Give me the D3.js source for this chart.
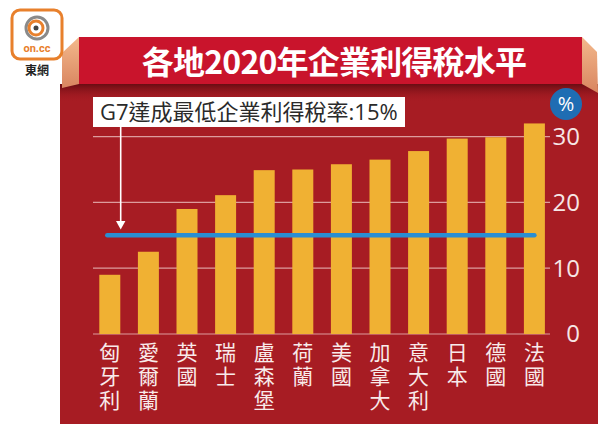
<!DOCTYPE html>
<html><head><meta charset="utf-8">
<script src="https://cdn.jsdelivr.net/npm/d3@7"></script>
<style>html,body{margin:0;padding:0;background:#fff;}svg{display:block;}</style>
</head><body>
<script>
const categories = ["匈牙利","愛爾蘭","英國","瑞士","盧森堡","荷蘭","美國","加拿大","意大利","日本","德國","法國"];
const taxRates = [9, 12.5, 19, 21.1, 24.9, 25, 25.8, 26.5, 27.8, 29.7, 29.9, 32];
const yTicks = [0, 10, 20, 30];
const minimumRate = 15;
const titleText = "各地2020年企業利得稅水平";
const noteText = "G7達成最低企業利得稅率:15%";
const unitText = "%";

const W = 609, H = 424;
const svg = d3.select("body").append("svg").attr("width", W).attr("height", H);
const defs = svg.append("defs");

const sh = defs.append("linearGradient").attr("id","shadow").attr("x1",0).attr("y1",0).attr("x2",0).attr("y2",1);
sh.append("stop").attr("offset",0).attr("stop-color","#5e0a10").attr("stop-opacity",0.85);
sh.append("stop").attr("offset",1).attr("stop-color","#a71c23").attr("stop-opacity",0);
const pl = defs.append("linearGradient").attr("id","peachL").attr("x1",0).attr("y1",0).attr("x2",0).attr("y2",1);
pl.append("stop").attr("offset",0).attr("stop-color","#f3b98c");
pl.append("stop").attr("offset",1).attr("stop-color","#d98560");

// panel
svg.append("rect").attr("x",60).attr("y",84).attr("width",538).attr("height",H-84).attr("fill","#a71c23");
svg.append("rect").attr("x",60).attr("y",84).attr("width",538).attr("height",18).attr("fill","url(#shadow)");
// banner sides
svg.append("path").attr("d","M79,37 L62,53 L62,88 L79,84 Z").attr("fill","url(#peachL)");
svg.append("path").attr("d","M582,37 L597,52 L598,93 L582,84 Z").attr("fill","url(#peachL)");
// banner front
svg.append("rect").attr("x",79).attr("y",37).attr("width",503).attr("height",47).attr("fill","#c9142c");
svg.append("text").attr("x",334).attr("y",74).attr("text-anchor","middle")
  .attr("font-family","'Noto Sans CJK TC','Noto Sans',sans-serif").attr("font-weight",700)
  .attr("font-size",32).attr("letter-spacing",-0.8).attr("fill","#fff").text(titleText);

// logo
const logo = svg.append("g");
logo.append("rect").attr("x",12).attr("y",10).attr("width",50).attr("height",49).attr("rx",8)
  .attr("fill","#fff").attr("stroke","#e8802c").attr("stroke-width",3);
logo.append("circle").attr("cx",37).attr("cy",28).attr("r",11).attr("fill","none").attr("stroke","#8a8a8a").attr("stroke-width",3);
logo.append("circle").attr("cx",36).attr("cy",28).attr("r",7).attr("fill","none").attr("stroke","#e8802c").attr("stroke-width",3);
logo.append("circle").attr("cx",36).attr("cy",28).attr("r",2.5).attr("fill","#444");
logo.append("text").attr("x",37).attr("y",52).attr("text-anchor","middle").attr("font-family","Roboto,sans-serif")
  .attr("font-weight",700).attr("font-size",11).attr("fill","#e8802c").text("on.cc");
logo.append("text").attr("x",37).attr("y",75).attr("text-anchor","middle").attr("font-family","'Noto Sans CJK TC',sans-serif")
  .attr("font-weight",700).attr("font-size",12).attr("fill","#222").text("東網");

// scales
const x = d3.scaleBand().domain(categories).range([90.5, 553.7]).paddingInner(0.456).paddingOuter(0.228);
const y = d3.scaleLinear().domain([0, 30]).range([334, 136.6]);

// gridlines
svg.append("g").selectAll("line").data(yTicks).join("line")
  .attr("x1",93).attr("x2",550).attr("y1",d=>y(d)).attr("y2",d=>y(d))
  .attr("stroke","#e7b3b3").attr("stroke-width",1.2).attr("opacity",0.85);

// bars
svg.append("g").selectAll("rect").data(taxRates).join("rect")
  .attr("x",(d,i)=>x(categories[i])).attr("width",x.bandwidth())
  .attr("y",d=>y(d)).attr("height",d=>y(0)-y(d)).attr("fill","#f0b133");

// reference line
svg.append("line").attr("x1",x(categories[0])+8).attr("x2",x(categories[categories.length-1])+x.bandwidth()/2)
  .attr("y1",y(minimumRate)).attr("y2",y(minimumRate))
  .attr("stroke","#2a8ed2").attr("stroke-width",4.5).attr("stroke-linecap","round");

// y tick labels
svg.append("g").selectAll("text").data(yTicks).join("text")
  .attr("x",580).attr("y",d=>y(d)).attr("dy","0.35em").attr("text-anchor","end")
  .attr("font-family","'Open Sans',sans-serif").attr("font-size",24).attr("fill","#f6e6e6").text(d=>d);

// unit circle
svg.append("circle").attr("cx",566).attr("cy",104).attr("r",16).attr("fill","#1f6db3");
svg.append("text").attr("x",566).attr("y",104).attr("dy","0.36em").attr("text-anchor","middle")
  .attr("font-family","'Open Sans',sans-serif").attr("font-size",20).attr("fill","#fff").text(unitText);

// note box
svg.append("rect").attr("x",93).attr("y",97).attr("width",312).attr("height",30).attr("fill","#fff");
svg.append("text").attr("x",100).attr("y",112).attr("dy","0.36em")
  .attr("font-family","'Open Sans','Noto Sans CJK TC',sans-serif").attr("font-size",22).attr("fill","#2a2a2a").text(noteText);
// arrow
svg.append("line").attr("x1",120.7).attr("x2",120.7).attr("y1",127).attr("y2",223).attr("stroke","#fff").attr("stroke-width",1.6);
svg.append("path").attr("d","M116,221 L125.4,221 L120.7,229.5 Z").attr("fill","#fff");

// x labels (vertical writing)
svg.append("g").selectAll("text").data(categories).join("text")
  .attr("x", d => x(d) + x.bandwidth()/2)
  .attr("y", 341.5)
  .style("writing-mode","vertical-rl")
  .style("text-orientation","upright")
  .attr("letter-spacing",3)
  .attr("font-family","'Noto Sans CJK TC',sans-serif").attr("font-size",21).attr("fill","#f8eaea")
  .attr("text-anchor","start").text(d => d);
</script>
</body></html>
